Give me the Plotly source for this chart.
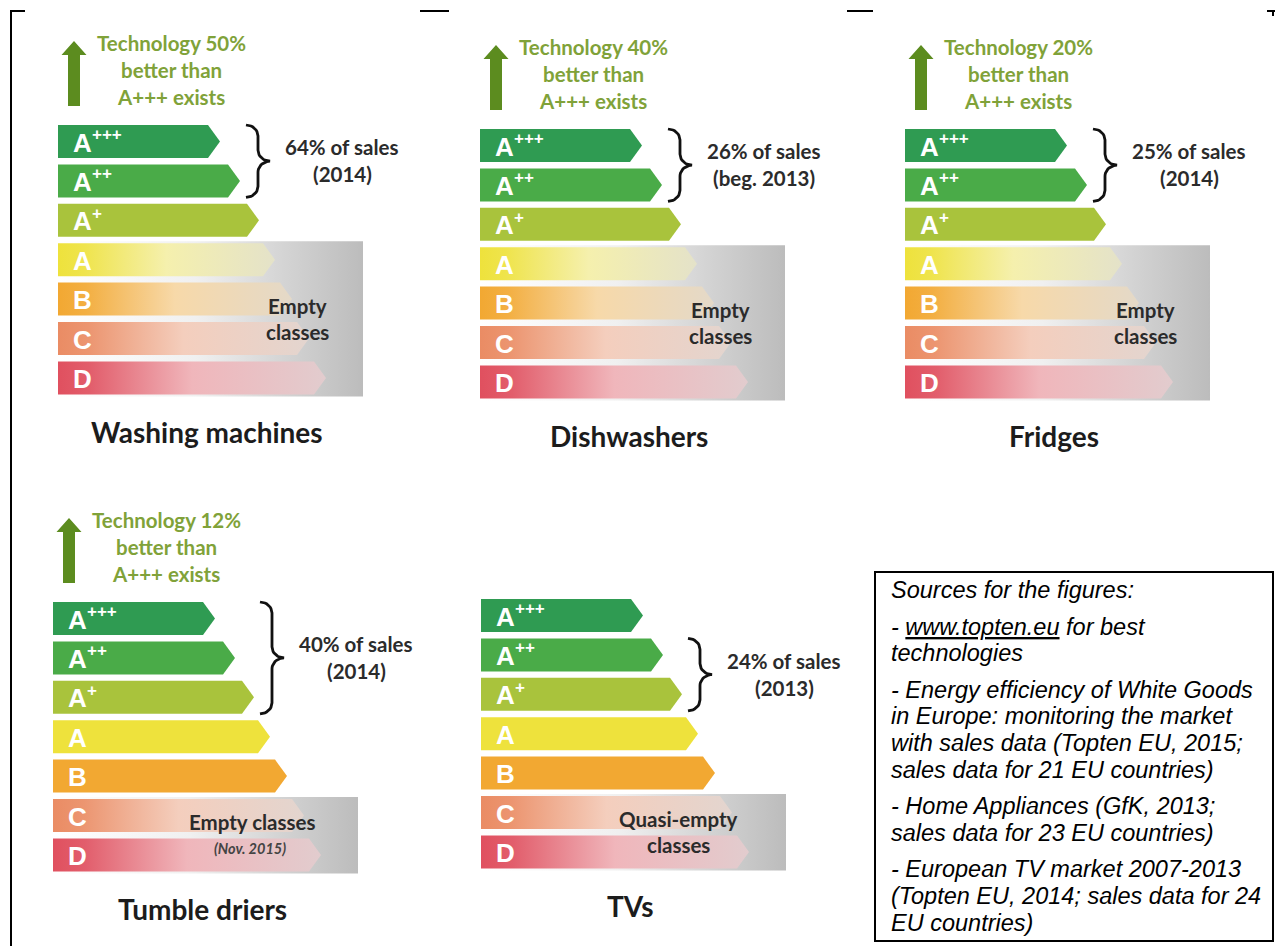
import numpy as np
import plotly.graph_objects as go

W, H = 1275, 946

# ---------------- data ----------------
CLASSES = ["A+++", "A++", "A+", "A", "B", "C", "D"]
CLASS_BASE = ["A", "A", "A", "A", "B", "C", "D"]
CLASS_PLUS = ["+++", "++", "+", "", "", "", ""]
CLASS_COLORS = ["#2f9b52", "#4aab48", "#a9c33c", "#eee23c", "#f2a832", "#ea8c64", "#e0505f"]
ARROW_LENGTH = [162, 182, 201, 217, 234, 251, 268]  # label-arrow length per class

PRODUCTS = ["Washing machines", "Dishwashers", "Fridges", "Tumble driers", "TVs"]
TECH_BETTER_PCT = [50, 40, 20, 12, None]
SALES_PCT = [64, 26, 25, 40, 24]
SALES_PERIOD = ["(2014)", "(beg. 2013)", "(2014)", "(2014)", "(2013)"]
BRACE_FIRST = ["A+++", "A+++", "A+++", "A+++", "A++"]
BRACE_LAST = ["A++", "A++", "A++", "A+", "A+"]
EMPTY_FIRST = ["A", "A", "A", "C", "C"]
EMPTY_LINE1 = ["Empty", "Empty", "Empty", "Empty classes", "Quasi-empty"]
EMPTY_LINE2 = ["classes", "classes", "classes", "(Nov. 2015)", "classes"]

SOURCE_PARAGRAPHS = [
    ["Sources for the figures:"],
    ["- <span style='text-decoration:underline'>www.topten.eu</span> for best", "technologies"],
    ["- Energy efficiency of White Goods", "in Europe: monitoring the market",
     "with sales data (Topten EU, 2015;", "sales data for 21 EU countries)"],
    ["- Home Appliances (GfK, 2013;", "sales data for 23 EU countries)"],
    ["- European TV market 2007-2013", "(Topten EU, 2014; sales data for 24", "EU countries)"],
]

# ---------------- layout (pixel positions) ----------------
PANEL_LEFT = [58, 480, 905, 53, 481]
PANEL_TOP = [125, 129, 129, 602, 599]
EMPTY_TEXT_DX = [239, 240, 240, 199, 197]
PITCH, BAR_H, TIP = 39.4, 33, 12
BOX_W = 305

TECH_COLOR = "#80a239"
ARROW_COLOR = "#5c8c1f"
DARK = "#2b2b2b"
CAL = "Lato"


def hex_rgb(h):
    h = h.lstrip("#")
    return tuple(int(h[i:i + 2], 16) for i in (0, 2, 4))


def mix(h, other, t):
    a = hex_rgb(h)
    return "rgb(%d,%d,%d)" % tuple(round(a[i] * (1 - t) + other[i] * t) for i in range(3))


fig = go.Figure()
ann = []
shapes = []


def add_poly(xs, ys, color=None, grad=None, start=None, stop=None):
    kw = dict(x=xs, y=ys, mode="lines", fill="toself", line=dict(width=0),
              hoverinfo="skip", showlegend=False)
    if grad is not None:
        kw["fillgradient"] = dict(type="horizontal", colorscale=grad, start=start, stop=stop)
    else:
        kw["fillcolor"] = color
    fig.add_trace(go.Scatter(**kw))


def brace(x0, y0, y1, w, ry=11):
    ym = (y0 + y1) / 2
    r = w / 2
    xs, ys = [], []
    t = np.linspace(-np.pi / 2, 0, 12)
    xs += list(x0 + r * np.cos(t)); ys += list(y0 + ry + ry * np.sin(t))
    t = np.linspace(np.pi, np.pi / 2, 12)
    xs += list(x0 + w + r * np.cos(t)); ys += list(ym - ry + ry * np.sin(t))
    t = np.linspace(-np.pi / 2, -np.pi, 12)
    xs += list(x0 + w + r * np.cos(t)); ys += list(ym + ry + ry * np.sin(t))
    t = np.linspace(0, np.pi / 2, 12)
    xs += list(x0 + r * np.cos(t)); ys += list(y1 - ry + ry * np.sin(t))
    return xs, ys


def text(x, y, s, size, color, family=CAL, xanchor="center"):
    ann.append(dict(x=x, y=y, text=s, xanchor=xanchor, yanchor="middle", showarrow=False,
                    font=dict(family=family, size=size, color=color)))


for p, name in enumerate(PRODUCTS):
    L, T = PANEL_LEFT[p], PANEL_TOP[p]
    tops = [T + i * PITCH for i in range(len(CLASSES))]
    e0 = CLASSES.index(EMPTY_FIRST[p])

    # gray "empty classes" box
    by0, by1 = tops[e0] - 2, tops[-1] + BAR_H + 2
    add_poly([L, L + BOX_W, L + BOX_W, L, L], [by0, by0, by1, by1, by0],
             grad=[[0, "#ffffff"], [0.45, "#f0f0f0"], [0.75, "#d3d3d3"], [1, "#bcbcbc"]],
             start=L, stop=L + BOX_W)

    # energy class arrows
    for i, cls in enumerate(CLASSES):
        ln = ARROW_LENGTH[i]
        y0, y1 = tops[i], tops[i] + BAR_H
        xs = [L, L + ln - TIP, L + ln, L + ln - TIP, L, L]
        ys = [y0, y0, (y0 + y1) / 2, y1, y1, y0]
        c = CLASS_COLORS[i]
        if i >= e0:
            grad = [[0, c], [0.12, mix(c, (255, 255, 255), 0.08)],
                    [0.5, mix(c, (250, 250, 248), 0.6)], [1, mix(c, (226, 226, 226), 0.85)]]
            add_poly(xs, ys, grad=grad, start=L, stop=L + ln)
        else:
            add_poly(xs, ys, color=c)
        yc = (y0 + y1) / 2
        text(L + 13, yc + 1, "<b>%s</b>" % CLASS_BASE[i], 26, "white",
             family="Liberation Sans", xanchor="left")
        if CLASS_PLUS[i]:
            text(L + 32, yc - 7, "<b>%s</b>" % CLASS_PLUS[i], 17, "white",
                 family="Liberation Sans", xanchor="left")

    # brace + sales share
    b0, b1 = CLASSES.index(BRACE_FIRST[p]), CLASSES.index(BRACE_LAST[p])
    bx = L + max(ARROW_LENGTH[b0:b1 + 1]) + 6
    bxs, bys = brace(bx, tops[b0], tops[b1] + BAR_H, 24)
    fig.add_trace(go.Scatter(x=bxs, y=bys, mode="lines", line=dict(color="#111", width=2.8),
                             hoverinfo="skip", showlegend=False))
    bm = (tops[b0] + tops[b1] + BAR_H) / 2
    text(bx + 24 + 72, bm - 14, "<b>%d%% of sales</b>" % SALES_PCT[p], 20.5, DARK)
    text(bx + 24 + 72, bm + 13, "<b>%s</b>" % SALES_PERIOD[p], 20.5, DARK)

    # empty class text
    em = (by0 + by1) / 2
    text(L + EMPTY_TEXT_DX[p], em - 13, "<b>%s</b>" % EMPTY_LINE1[p], 20.5, DARK)
    if EMPTY_LINE2[p].startswith("(Nov"):
        text(L + EMPTY_TEXT_DX[p] - 2, em + 13, "<b><i>%s</i></b>" % EMPTY_LINE2[p], 14.5, "#444")
    else:
        text(L + EMPTY_TEXT_DX[p], em + 13, "<b>%s</b>" % EMPTY_LINE2[p], 20.5, DARK)

    # product title
    text(L + 149, tops[-1] + BAR_H + 38, "<b>%s</b>" % name, 28, "#1c1c1c")

    # technology arrow + text
    if TECH_BETTER_PCT[p] is not None:
        cx, ty, byy = L + 16, T - 84, T - 19
        hw, hh, sw = 12.5, 14, 6
        add_poly([cx - sw, cx - sw, cx - hw, cx, cx + hw, cx + sw, cx + sw, cx - sw],
                 [byy, ty + hh, ty + hh, ty, ty + hh, ty + hh, byy, byy], color=ARROW_COLOR)
        tx = L + 113
        for k, line in enumerate(["Technology %d%%" % TECH_BETTER_PCT[p], "better than", "A+++ exists"]):
            text(tx, T - 82 + k * 27, "<b>%s</b>" % line, 20.5, TECH_COLOR)

# sources box text
i = 0
for pi_, para in enumerate(SOURCE_PARAGRAPHS):
    for line in para:
        text(889, 590 + i * 26.6 + pi_ * 10, "<i>%s</i>" % line, 23.5, "black",
             family="Liberation Sans", xanchor="left")
        i += 1

# frame and box
line = dict(color="black", width=2)
shapes.append(dict(type="rect", x0=875, x1=1273, y0=572, y1=941, line=line, xref="x", yref="y"))
shapes.append(dict(type="line", x0=11, x1=11, y0=11, y1=946, line=line, xref="x", yref="y"))
for sx0, sx1 in [(10, 25), (420, 449), (847, 873), (1267, 1275)]:
    shapes.append(dict(type="line", x0=sx0, x1=sx1, y0=11, y1=11, line=line, xref="x", yref="y"))
shapes.append(dict(type="line", x0=1273, x1=1273, y0=11, y1=16, line=line, xref="x", yref="y"))

fig.update_layout(
    width=W, height=H, autosize=False,
    margin=dict(l=0, r=0, t=0, b=0, pad=0),
    paper_bgcolor="white", plot_bgcolor="white",
    xaxis=dict(range=[0, W], visible=False, fixedrange=True),
    yaxis=dict(range=[H, 0], visible=False, fixedrange=True),
    annotations=ann, shapes=shapes, showlegend=False, hovermode=False,
)

fig.write_html("out.html", config={"displayModeBar": False, "staticPlot": True},
               post_script="document.body.style.margin='0';document.body.style.overflow='hidden';")
